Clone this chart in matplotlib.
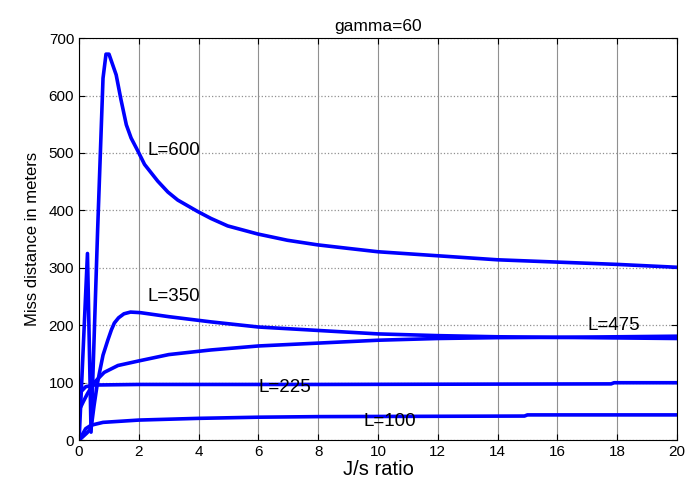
import matplotlib
matplotlib.use("Agg")
import matplotlib.pyplot as plt

plt.rcParams['font.family'] = ['Liberation Sans', 'DejaVu Sans']

x_600 = [0, 0.28, 0.40, 0.62, 0.80, 0.90, 1.00, 1.24, 1.40, 1.58, 1.74, 1.97, 2.19, 2.63,
         2.97, 3.30, 3.97, 4.41, 4.97, 5.97, 6.97, 7.98, 8.98, 10.0, 12.0, 14.0, 16.0, 18.0, 20.0]
y_600 = [0, 325, 14, 366, 630, 672, 672, 636, 593, 549, 526, 503, 480, 451,
         432, 418, 398, 386, 373, 359, 348, 340, 334, 328, 321, 314, 310, 306, 301]

x_350 = [0, 0.25, 0.40, 0.50, 0.60, 0.68, 0.80, 0.96, 1.08, 1.18, 1.32, 1.50, 1.72, 2.05,
         3.0, 4.4, 6.0, 8.0, 10.0, 12.0, 14.0, 16.0, 18.0, 20.0]
y_350 = [0, 12, 20, 60, 95, 117, 148, 174, 192, 204, 213, 220, 223, 222,
         215, 206, 197, 191, 185, 182, 180, 179, 178, 177]

x_475 = [0, 0.15, 0.28, 0.50, 0.84, 1.30, 2.0, 3.0, 4.4, 6.0, 8.0, 10.0, 12.0, 14.0,
         16.0, 18.0, 20.0]
y_475 = [52, 68, 81, 100, 118, 130, 138, 149, 157, 164, 169, 174, 177, 178.5,
         179, 180, 181]

x_225 = [0, 0.22, 0.50, 2.0, 8.0, 17.8, 17.9, 20.0]
y_225 = [81, 93, 96, 97, 97, 98, 100, 100]

x_100 = [0, 0.22, 0.40, 0.80, 2.0, 4.0, 6.0, 8.0, 14.9, 15.0, 20.0]
y_100 = [0, 20, 26, 31, 35, 38, 40, 41, 42, 44, 44]

labels = ['L=600', 'L=350', 'L=475', 'L=225', 'L=100']
label_x = [2.3, 2.3, 17.0, 6.0, 9.5]
label_y = [505, 250, 199, 91, 33]

fig = plt.figure(figsize=(7, 4.88), dpi=100)
ax = fig.add_axes([0.113, 0.098, 0.854, 0.824])

for xs, ys in [(x_600, y_600), (x_350, y_350), (x_475, y_475), (x_225, y_225), (x_100, y_100)]:
    ax.plot(xs, ys, color='#0000ff', lw=2.6, solid_joinstyle='round')

for t, tx, ty in zip(labels, label_x, label_y):
    ax.text(tx, ty, t, fontsize=13.5, va='center', ha='left')

ax.set_xlim(0, 20)
ax.set_ylim(0, 700)
ax.set_xticks(range(0, 21, 2))
ax.set_yticks(range(0, 701, 100))
ax.tick_params(direction='in', top=True, right=True, labelsize=11, length=4)
ax.xaxis.grid(True, color='#909090', linestyle='-', linewidth=0.8)
ax.yaxis.grid(True, color='#909090', linestyle=':', linewidth=0.9)
for s in ax.spines.values():
    s.set_color('black')
    s.set_linewidth(0.8)

ax.set_title('gamma=60', fontsize=12.5, pad=5)
ax.set_xlabel('J/s ratio', fontsize=14.5, labelpad=1)
ax.set_ylabel('Miss distance in meters', fontsize=12, labelpad=6)

fig.savefig('out.png', dpi=100)
